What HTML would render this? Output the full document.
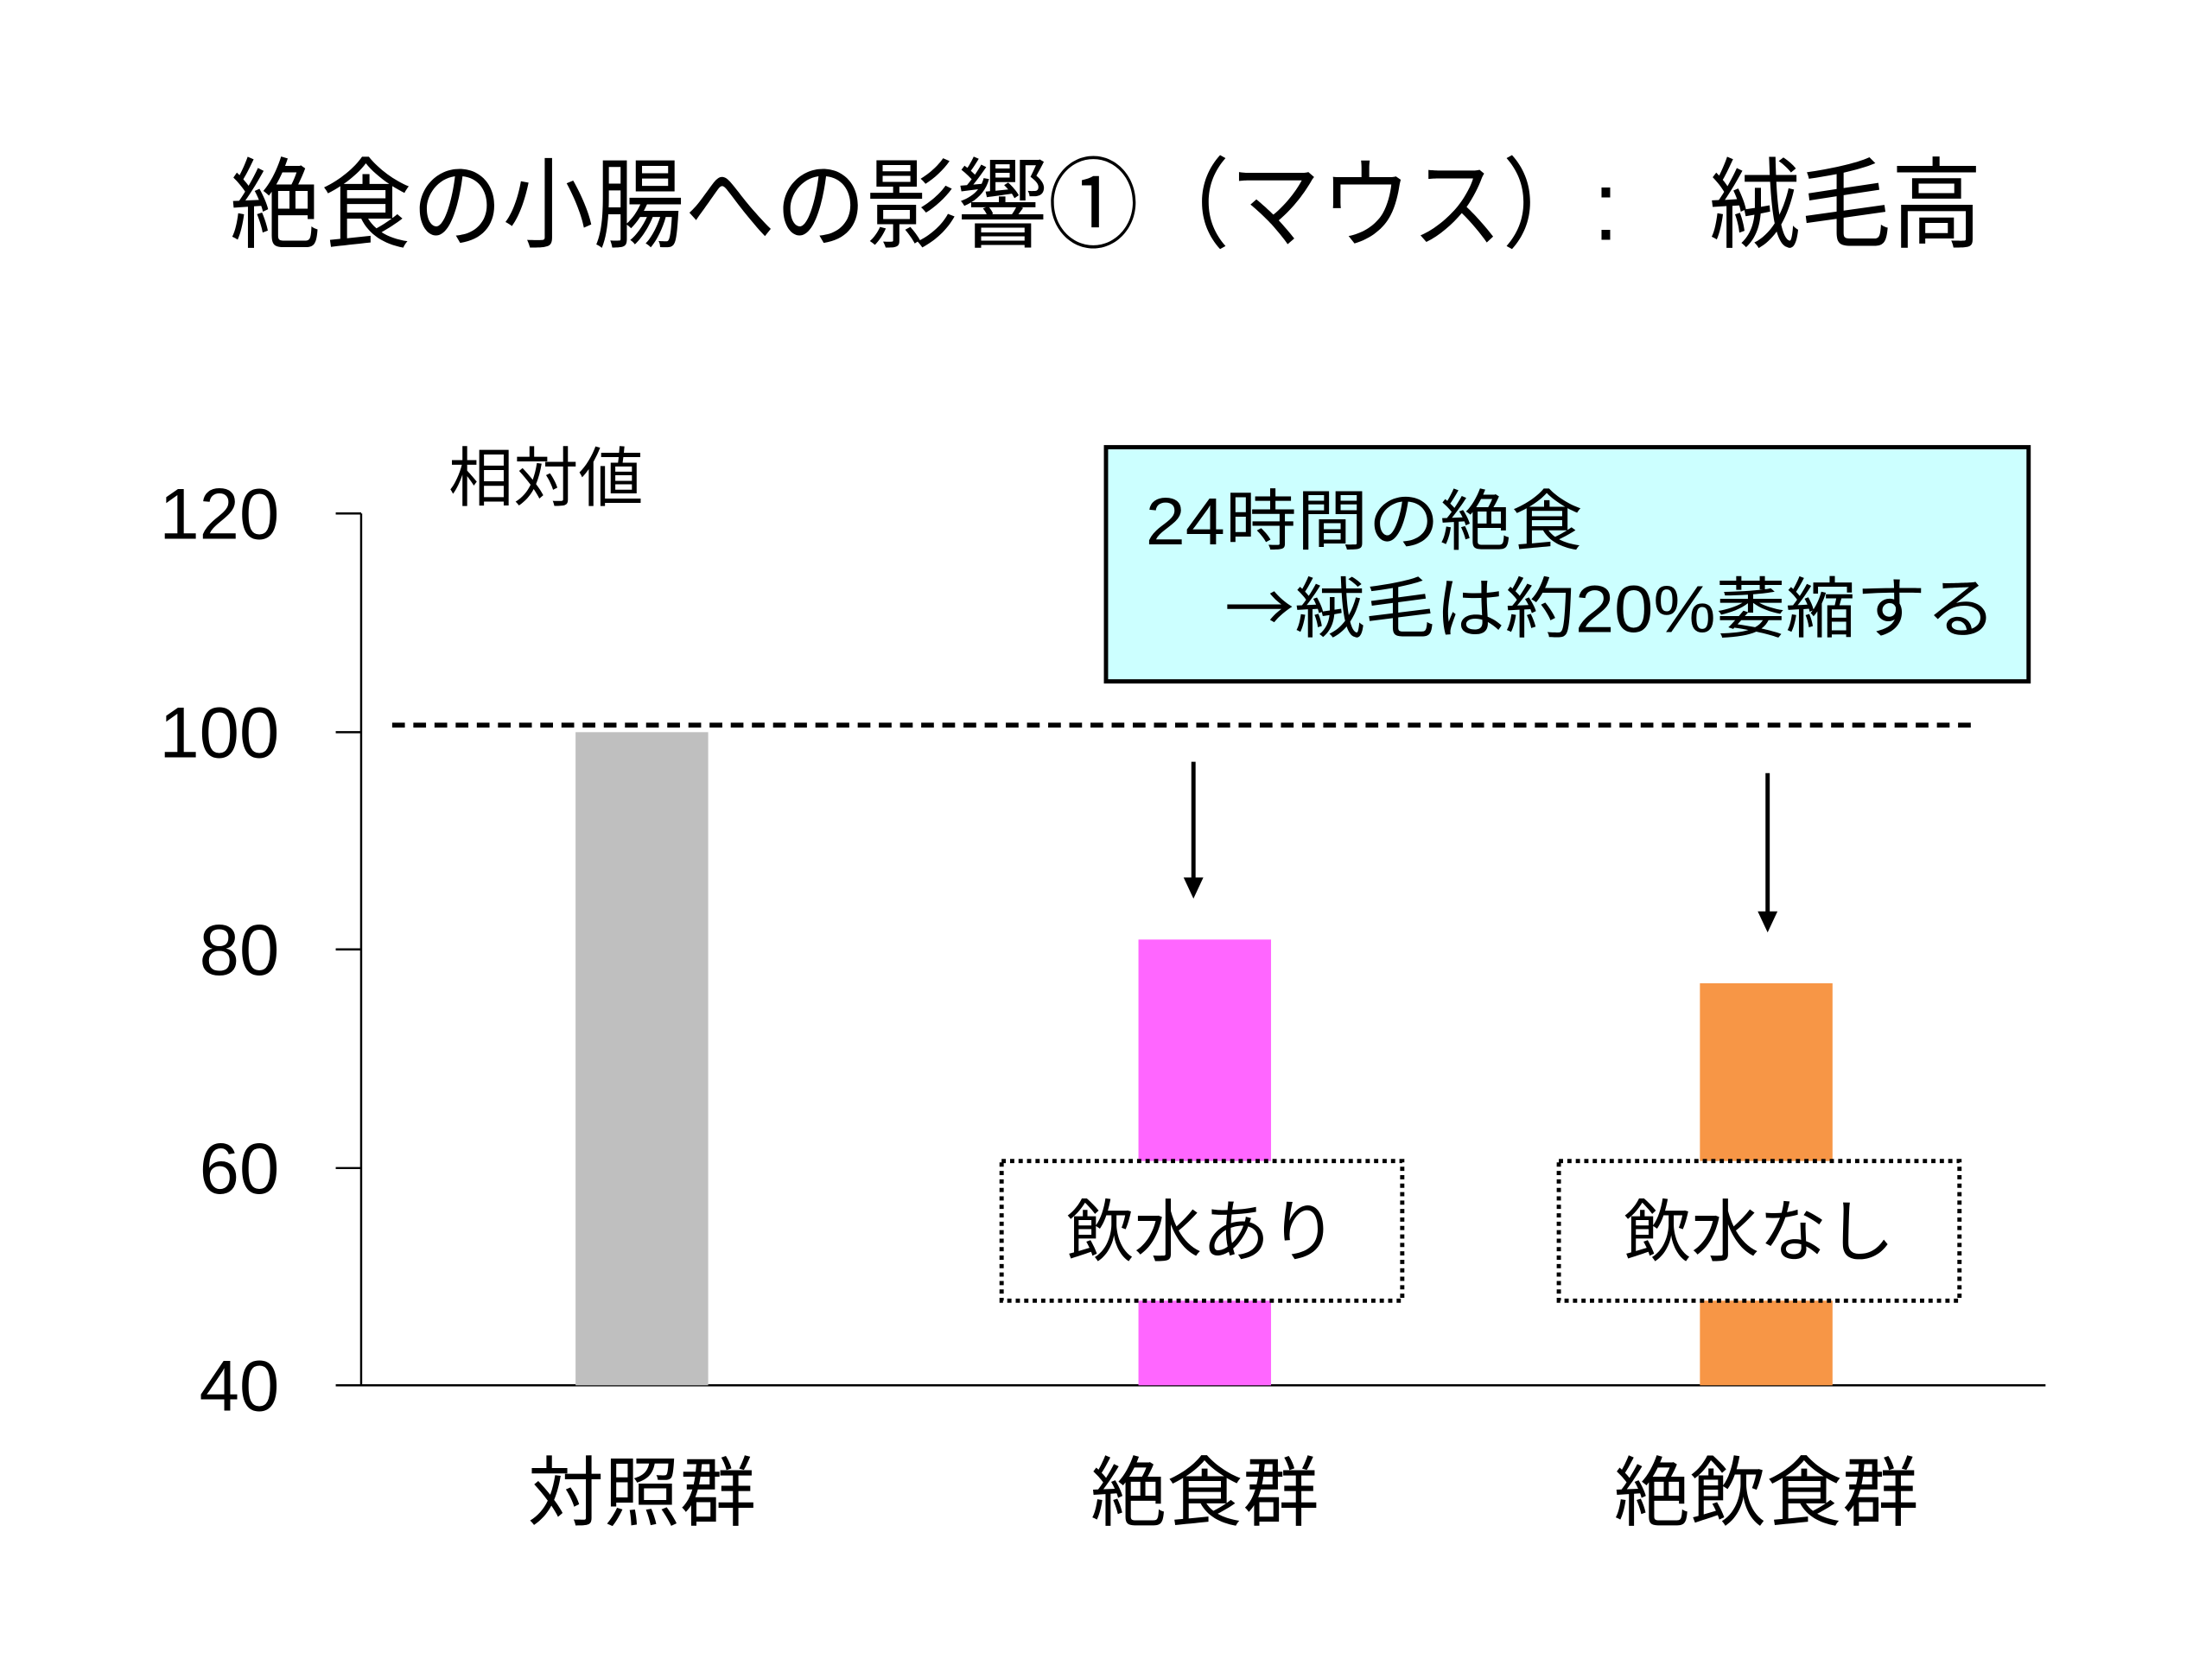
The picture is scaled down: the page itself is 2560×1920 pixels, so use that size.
<!DOCTYPE html>
<html><head><meta charset="utf-8"><style>
html,body{margin:0;padding:0;background:#fff;}
svg{display:block;}
text{font-family:"Liberation Sans","Noto Sans CJK JP",sans-serif;fill:#000;}
</style></head><body>
<svg width="2560" height="1920" viewBox="0 0 1568 1176" xmlns="http://www.w3.org/2000/svg">
<rect width="1568" height="1176" fill="#fff"/>
<text x="784" y="170" font-size="70" text-anchor="middle" textLength="1242" lengthAdjust="spacingAndGlyphs">絶食の小腸への影響①（マウス）:　絨毛高</text>
<text x="318" y="355" font-size="46">相対値</text>
<line x1="256" y1="364" x2="256" y2="982" stroke="#000" stroke-width="1.5"/>
<line x1="238" y1="982" x2="1450" y2="982" stroke="#000" stroke-width="1.5"/>
<g stroke="#000" stroke-width="1.5">
<line x1="238" y1="364" x2="256" y2="364"/>
<line x1="238" y1="519" x2="256" y2="519"/>
<line x1="238" y1="673" x2="256" y2="673"/>
<line x1="238" y1="828" x2="256" y2="828"/>
</g>
<g font-size="51" text-anchor="end">
<text x="198" y="382">120</text>
<text x="198" y="537">100</text>
<text x="198" y="691">80</text>
<text x="198" y="846">60</text>
<text x="198" y="1000">40</text>
</g>
<rect x="408" y="519" width="94" height="463" fill="#bfbfbf"/>
<rect x="807" y="666" width="94" height="316" fill="#ff66ff"/>
<rect x="1205" y="697" width="94" height="285" fill="#f79646"/>
<line x1="278" y1="514" x2="1402" y2="514" stroke="#000" stroke-width="3.5" stroke-dasharray="9,6"/>
<rect x="784" y="317" width="654" height="166" fill="#ccffff" stroke="#000" stroke-width="3"/>
<text x="812" y="386" font-size="47" textLength="310" lengthAdjust="spacingAndGlyphs">24時間の絶食</text>
<text x="868" y="448" font-size="47" textLength="547" lengthAdjust="spacingAndGlyphs"><tspan font-family="'Noto Sans CJK JP',sans-serif">→</tspan>絨毛は約20%萎縮する</text>
<line x1="846" y1="540" x2="846" y2="624" stroke="#000" stroke-width="3"/>
<polygon points="839,622 853,622 846,637" fill="#000"/>
<line x1="1253" y1="548" x2="1253" y2="648" stroke="#000" stroke-width="3"/>
<polygon points="1246,646 1260,646 1253,661" fill="#000"/>
<rect x="710" y="823" width="284" height="99" fill="#fff" stroke="#000" stroke-width="3" stroke-dasharray="3,3"/>
<text x="852" y="890" font-size="48" text-anchor="middle">飲水あり</text>
<rect x="1105" y="823" width="284" height="99" fill="#fff" stroke="#000" stroke-width="3" stroke-dasharray="3,3"/>
<text x="1247" y="890" font-size="48" text-anchor="middle">飲水なし</text>
<g font-size="54" text-anchor="middle">
<text x="455" y="1077">対照群</text>
<text x="854" y="1077">絶食群</text>
<text x="1252" y="1077">絶飲食群</text>
</g>
</svg>
</body></html>
